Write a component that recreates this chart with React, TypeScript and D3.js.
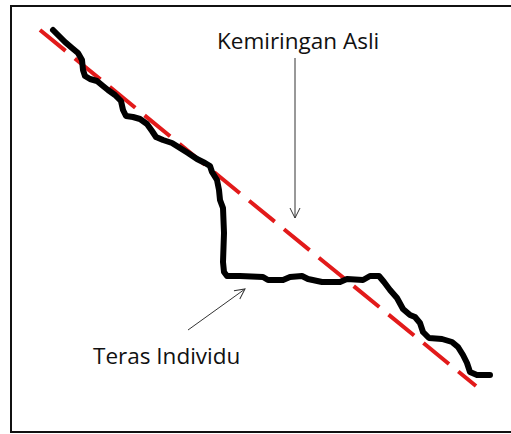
import React from 'react';
import * as d3 from 'd3';

// terrain profile (horizontal distance, elevation)
const profileX = [
  21, 23.5, 27, 30.5, 33.5, 35.5, 36, 37, 39.5, 43, 46, 48.5, 52, 55, 56, 57.5,
  61, 64.5, 68, 70.5, 72.5, 76, 80.5, 84.5, 88.5, 93, 97, 99.5, 100.5, 103, 104,
  104.5, 106, 106.5, 106, 106.5, 108, 114.5, 126, 128.5, 136, 139.5, 145.5,
  148.5, 155.5, 164.5, 168, 176, 179.5, 184, 186.5, 189.5, 193, 196, 199.5, 202,
  204.5, 206, 209, 215.5, 220.5, 223.5, 226, 228, 229.5, 233, 239.5,
];
const profileY = [
  201, 198.5, 195, 192, 189.5, 186, 181, 178, 176.5, 175.5, 173, 171, 168.5,
  165.5, 161, 158, 157.5, 156.5, 154, 150.5, 147.5, 146, 144.5, 142, 139.5,
  136.5, 134.5, 133, 130, 126, 121, 116, 112, 99.5, 85, 80, 78, 78, 77.5, 76,
  76, 77.5, 78, 76.5, 75, 75, 76.5, 76, 78, 78, 75, 71, 67, 61.5, 58.5, 57.5,
  54.5, 50, 47, 46.5, 45, 42.5, 38.5, 34.5, 30, 28.5, 28.5,
];

// original slope (straight line)
const slopeX = [14.5, 232.5];
const slopeY = [201, 23];

const labels = ['Kemiringan Asli', 'Teras Individu'];

const W = 511;
const H = 434;

const App: React.FC = () => {
  const x = d3.scaleLinear().domain([0, 249]).range([11, 509]);
  const y = d3.scaleLinear().domain([0, 213]).range([432, 6]);

  const profile = profileX.map((d, i) => [d, profileY[i]] as [number, number]);
  const slope = slopeX.map((d, i) => [d, slopeY[i]] as [number, number]);

  const line = d3
    .line<[number, number]>()
    .x((d) => x(d[0]))
    .y((d) => y(d[1]));

  const font = '"Open Sans", Lato, sans-serif';

  return (
    <div style={{ position: 'fixed', left: 0, top: 0 }}>
      <svg width={W} height={H} style={{ display: 'block', background: '#fff' }}>
        <defs>
          <marker
            id="open-arrow"
            viewBox="0 0 12 12"
            refX={11}
            refY={6}
            markerWidth={12}
            markerHeight={12}
            markerUnits="userSpaceOnUse"
            orient="auto"
          >
            <path d="M1,1 L11,6 L1,11" fill="none" stroke="#333" strokeWidth={1} />
          </marker>
        </defs>
        <rect x={11} y={6} width={520} height={426} fill="none" stroke="#111" strokeWidth={2} />
        <path
          d={line(slope) || ''}
          fill="none"
          stroke="#e21a1a"
          strokeWidth={4}
          strokeDasharray="33,12"
        />
        <path
          d={line(profile) || ''}
          fill="none"
          stroke="#000"
          strokeWidth={6}
          strokeLinejoin="round"
          strokeLinecap="round"
        />
        <line
          x1={x(142)}
          y1={y(187)}
          x2={x(142)}
          y2={y(107)}
          stroke="#333"
          strokeWidth={1}
          markerEnd="url(#open-arrow)"
        />
        <line
          x1={x(88.5)}
          y1={y(51)}
          x2={x(117)}
          y2={y(71.5)}
          stroke="#333"
          strokeWidth={1}
          markerEnd="url(#open-arrow)"
        />
        <text x={x(103)} y={y(191.5)} fontFamily={font} fontSize={22.5} fill="#111">
          {labels[0]}
        </text>
        <text x={x(41)} y={y(34)} fontFamily={font} fontSize={22.5} fill="#111">
          {labels[1]}
        </text>
      </svg>
    </div>
  );
};

export default App;
